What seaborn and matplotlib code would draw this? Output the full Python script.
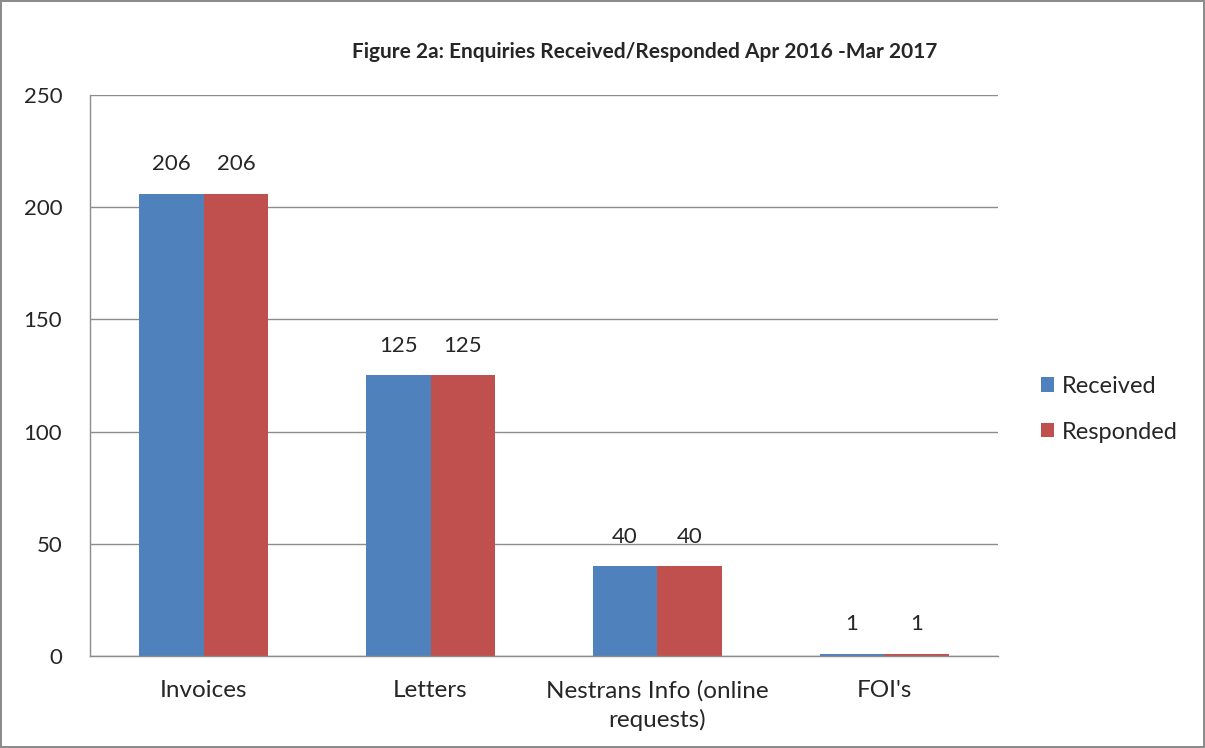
import matplotlib
matplotlib.use("Agg")
import matplotlib.pyplot as plt
import seaborn as sns
import pandas as pd

categories = ["Invoices", "Letters", "Nestrans Info (online\nrequests)", "FOI's"]
received = [206, 125, 40, 1]
responded = [206, 125, 40, 1]
series_names = ["Received", "Responded"]
colors = ["#4F81BD", "#C0504D"]

df = pd.DataFrame({
    "category": categories * 2,
    "value": received + responded,
    "series": [series_names[0]] * 4 + [series_names[1]] * 4,
})

sns.set_style("white")
plt.rcParams["font.family"] = ["Lato", "DejaVu Sans"]

fig = plt.figure(figsize=(12.05, 7.48), dpi=100)
ax = fig.add_axes([0.0747, 0.123, 0.7535, 0.750])

sns.barplot(data=df, x="category", y="value", hue="series", palette=colors,
            width=0.572, saturation=1, ax=ax, edgecolor="none")

for cont in ax.containers:
    ax.bar_label(cont, padding=14, fontsize=16)

ax.set_ylim(0, 250)
ax.set_yticks(range(0, 251, 50))
ax.yaxis.grid(True, color="#8c8c8c", linewidth=1)
ax.set_axisbelow(True)
ax.set_xlabel("")
ax.set_ylabel("")
ax.tick_params(axis="y", length=0, labelsize=16, pad=20)
ax.tick_params(axis="x", length=0, labelsize=17.5, pad=17)
for lbl in ax.get_xticklabels():
    lbl.set_linespacing(1.45)
for s in ["top", "right"]:
    ax.spines[s].set_visible(False)
for s in ["left", "bottom"]:
    ax.spines[s].set_color("#8c8c8c")
    ax.spines[s].set_linewidth(1)

ax.legend(loc="center left", bbox_to_anchor=(1.024, 0.44), frameon=False,
          fontsize=17, handlelength=0.55, handleheight=0.55, labelspacing=1.05,
          handletextpad=0.35)

fig.text(0.535, 0.93, "Figure 2a: Enquiries Received/Responded Apr 2016 -Mar 2017",
         ha="center", va="center", fontsize=15, fontweight="bold")

fig.patch.set_edgecolor("#8c8c8c")
fig.patch.set_linewidth(1.5)

fig.savefig("out.png", dpi=100, edgecolor=fig.get_edgecolor())
